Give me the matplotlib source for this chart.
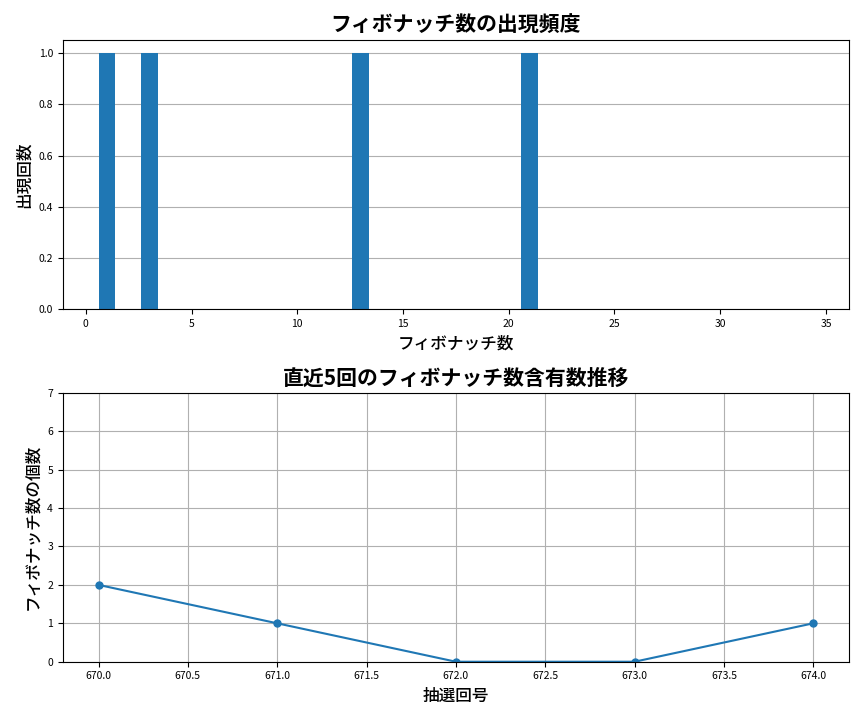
import matplotlib
matplotlib.use("Agg")
import matplotlib.pyplot as plt

plt.rcParams['font.family'] = ['Noto Sans CJK JP', 'DejaVu Sans']

fib_numbers = [1, 2, 3, 5, 8, 13, 21, 34]
fib_counts = [1, 0, 1, 0, 0, 1, 1, 0]
draws = [670, 671, 672, 673, 674]
fib_per_draw = [2, 1, 0, 0, 1]

fig, (ax1, ax2) = plt.subplots(2, 1, figsize=(8.64, 7.2), dpi=100)

ax1.bar(fib_numbers, fib_counts, color='#1f77b4', width=0.8)
ax1.set_title('フィボナッチ数の出現頻度', fontsize=15, fontweight='bold')
ax1.set_xlabel('フィボナッチ数', fontsize=12, fontweight='medium')
ax1.set_ylabel('出現回数', fontsize=12, fontweight='medium')
ax1.grid(axis='y')
ax1.set_axisbelow(True)
ax1.tick_params(labelsize=7.5)

ax2.plot(draws, fib_per_draw, marker='o', color='#1f77b4', markersize=5)
ax2.set_title('直近5回のフィボナッチ数含有数推移', fontsize=15, fontweight='bold')
ax2.set_xlabel('抽選回号', fontsize=12, fontweight='medium')
ax2.set_ylabel('フィボナッチ数の個数', fontsize=12, fontweight='medium')
ax2.set_ylim(0, 7)
ax2.grid(True)
ax2.tick_params(labelsize=7.5)

plt.tight_layout()
plt.savefig('out.png')
